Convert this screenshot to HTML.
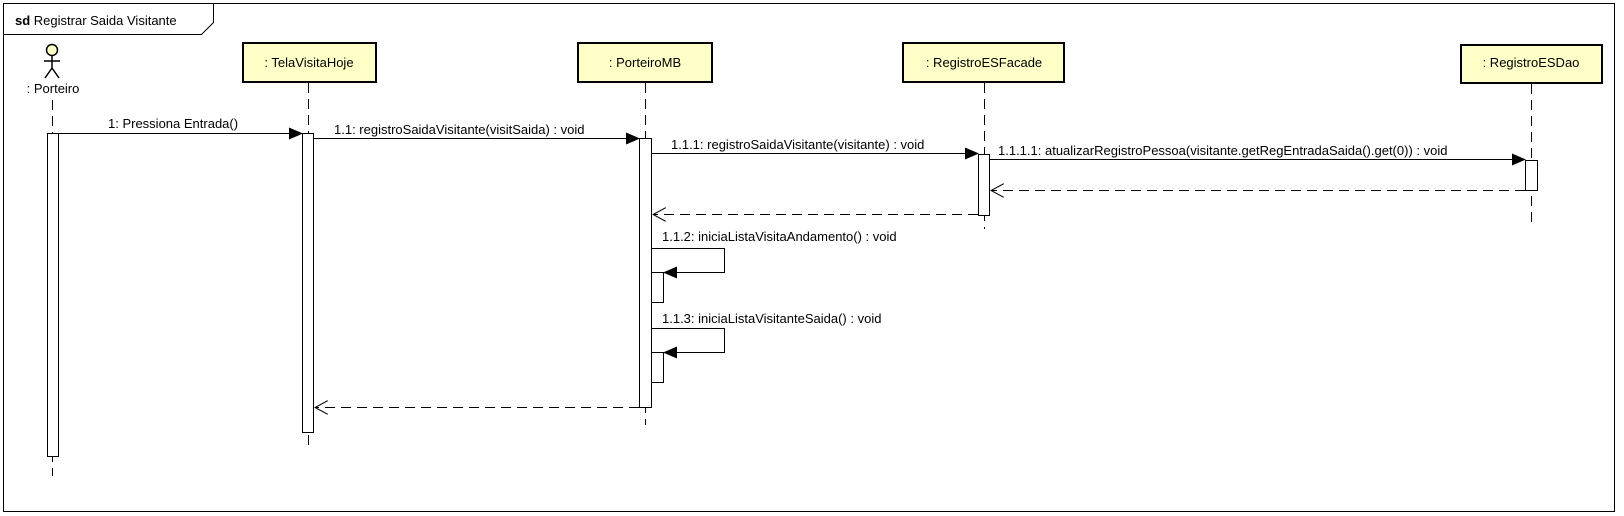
<!DOCTYPE html>
<html><head><meta charset="utf-8"><style>
html,body{margin:0;padding:0;background:#fff;}
svg{display:block;}
text{font-family:"Liberation Sans",sans-serif;font-size:13px;fill:#000;}
</style></head><body>
<svg width="1624" height="516" viewBox="0 0 1624 516" xmlns="http://www.w3.org/2000/svg">
<defs>
<marker id="f" markerWidth="14" markerHeight="12" refX="13" refY="6" orient="auto" markerUnits="userSpaceOnUse"><path d="M0,0 L14,6 L0,12 Z" fill="#000"/></marker>
<marker id="o" markerWidth="14" markerHeight="14" refX="13" refY="7" orient="auto" markerUnits="userSpaceOnUse"><path d="M0,0 L13,7 L0,14" fill="none" stroke="#000"/></marker>
</defs>
<rect x="3.5" y="3.5" width="1611" height="508" fill="#fff" stroke="#000"/>
<path d="M3.5,34.5 H201.5 L213.5,22.5 V3.5" fill="none" stroke="#000"/>
<text x="15" y="25"><tspan font-weight="bold">sd</tspan> Registrar Saida Visitante</text>

<circle cx="52" cy="50" r="5.5" fill="#ffffc8" stroke="#000" stroke-width="1.5"/>
<path d="M52,56 V68 M44,61 H60 M52,68 L45,78 M52,68 L59,78" stroke="#000" stroke-width="1.5" fill="none"/>
<text x="53" y="93" text-anchor="middle">: Porteiro</text>

<g stroke="#000" stroke-dasharray="10,6">
<line x1="52.5" y1="100" x2="52.5" y2="476"/>
<line x1="308.5" y1="83" x2="308.5" y2="449"/>
<line x1="645.5" y1="83" x2="645.5" y2="425"/>
<line x1="984.5" y1="83" x2="984.5" y2="229"/>
<line x1="1531.5" y1="84" x2="1531.5" y2="228"/>
</g>

<g fill="#ffffc8" stroke="#000" stroke-width="2">
<rect x="243" y="43" width="133" height="39"/>
<rect x="578" y="43" width="134" height="39"/>
<rect x="903" y="43" width="161" height="39"/>
<rect x="1461" y="45" width="141" height="38"/>
</g>
<text x="309" y="67" text-anchor="middle">: TelaVisitaHoje</text>
<text x="645" y="67" text-anchor="middle">: PorteiroMB</text>
<text x="984" y="67" text-anchor="middle">: RegistroESFacade</text>
<text x="1531" y="67" text-anchor="middle">: RegistroESDao</text>

<g fill="#fff" stroke="#000">
<rect x="47.5" y="133.5" width="11" height="323"/>
<rect x="302.5" y="133.5" width="11" height="299"/>
<rect x="639.5" y="138.5" width="12" height="269"/>
<rect x="978.5" y="154.5" width="11" height="61"/>
<rect x="1525.5" y="160.5" width="12" height="30"/>
<rect x="651.5" y="272.5" width="12" height="30"/>
<rect x="651.5" y="352.5" width="12" height="30"/>
</g>

<g stroke="#000" fill="none">
<line x1="59" y1="133.5" x2="302" y2="133.5" marker-end="url(#f)"/>
<line x1="314" y1="138.5" x2="639" y2="138.5" marker-end="url(#f)"/>
<line x1="652" y1="153.5" x2="978" y2="153.5" marker-end="url(#f)"/>
<line x1="990" y1="159.5" x2="1525" y2="159.5" marker-end="url(#f)"/>
<line x1="1525" y1="190.5" x2="991" y2="190.5" stroke-dasharray="10,6" marker-end="url(#o)"/>
<line x1="978" y1="214.5" x2="653" y2="214.5" stroke-dasharray="10,6" marker-end="url(#o)"/>
<polyline points="652,248.5 724.5,248.5 724.5,272.5 664,272.5" marker-end="url(#f)"/>
<polyline points="652,328.5 724.5,328.5 724.5,352.5 664,352.5" marker-end="url(#f)"/>
<line x1="639" y1="407.5" x2="315" y2="407.5" stroke-dasharray="10,6" marker-end="url(#o)"/>
</g>
<text x="108" y="128">1: Pressiona Entrada()</text>
<text x="334" y="134">1.1: registroSaidaVisitante(visitSaida) : void</text>
<text x="671" y="149">1.1.1: registroSaidaVisitante(visitante) : void</text>
<text x="998" y="155">1.1.1.1: atualizarRegistroPessoa(visitante.getRegEntradaSaida().get(0)) : void</text>
<text x="662" y="241">1.1.2: iniciaListaVisitaAndamento() : void</text>
<text x="662" y="323">1.1.3: iniciaListaVisitanteSaida() : void</text>
</svg>
</body></html>
